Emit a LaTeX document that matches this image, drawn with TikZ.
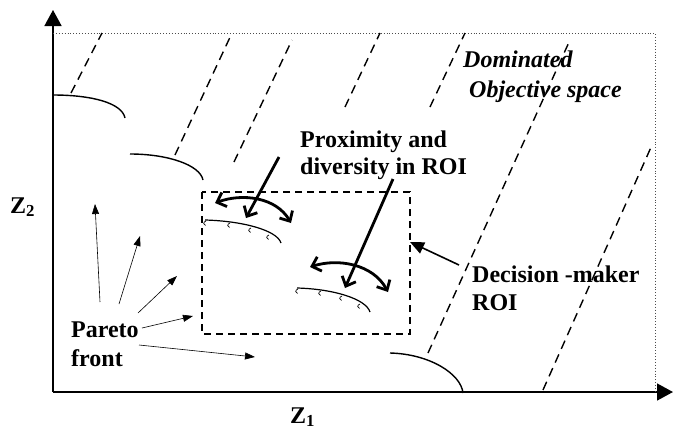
\documentclass[tikz,border=0pt]{standalone}
\usepackage{fontspec}
\setmainfont{Liberation Serif}
\usetikzlibrary{arrows.meta}
\begin{document}
\begin{tikzpicture}[x=1pt,y=-1pt,
  lbl/.style={font=\fontsize{24}{28}\selectfont\bfseries, inner sep=0pt, anchor=base west, align=left},
  itlbl/.style={font=\fontsize{24}{30}\selectfont\bfseries\itshape, inner sep=0pt, anchor=base west, align=left},
  axisline/.style={line width=1.6pt, -{Triangle[length=16pt,width=17pt]}},
  frontier/.style={line width=1.4pt},
  roifront/.style={line width=1.2pt},
  hook/.style={line width=0.7pt},
  domline/.style={line width=1.4pt, dash pattern=on 9pt off 6pt},
  roibox/.style={line width=1.7pt, dash pattern=on 7pt off 5pt},
  thinarrow/.style={line width=0.6pt, -{Triangle[length=10pt,width=7pt]}},
  thickarrow/.style={line width=2.8pt, -{Straight Barb[length=8pt,width=15pt]}},
  swing/.style={line width=2.8pt, {Straight Barb[length=8pt,width=15pt]}-{Straight Barb[length=8pt,width=15pt]}}
]
\useasboundingbox (0,0) rectangle (673,432);

% axes
\coordinate (O) at (53,392);
\coordinate (ytip) at (53,10);
\coordinate (xtip) at (673,392);
\draw[axisline] (O) -- (ytip);
\draw[axisline] (O) -- (xtip);
% dotted objective space border
\coordinate (tl) at (53,33);
\coordinate (br) at (655,392);
\draw[line width=0.9pt, dotted, gray!60!black] (tl) -| (br);

% axis labels
\node[lbl] (z2) at (10,213) {Z\textsubscript{2}};
\node[lbl] (z1) at (290,423) {Z\textsubscript{1}};

% dominated region dashed lines
\coordinate (a1) at (71,93);   \coordinate (a2) at (102,33);
\coordinate (b1) at (175,155); \coordinate (b2) at (232,33);
\coordinate (c1) at (234,162); \coordinate (c2) at (292,40);
\coordinate (d1) at (345,107); \coordinate (d2) at (380,33);
\coordinate (e1) at (430,107); \coordinate (e2) at (465,33);
\coordinate (f1) at (428,353); \coordinate (f2) at (570,40);
\coordinate (g1) at (543,390); \coordinate (g2) at (652,145);
\foreach \p in {a,b,c,d,e,f,g} \draw[domline] (\p1) -- (\p2);

% Pareto fronts
\coordinate (p1s) at (53,95);   \coordinate (p1e) at (125,118);
\coordinate (p2s) at (130,154); \coordinate (p2e) at (203,180);
\coordinate (p3s) at (390,353); \coordinate (p3e) at (463,393);
\draw[frontier] (p1s) .. controls (92,95) and (122,103) .. (p1e);
\draw[frontier] (p2s) .. controls (168,154) and (200,165) .. (p2e);
\draw[frontier] (p3s) .. controls (430,354) and (461,374) .. (p3e);

% ROI box
\coordinate (r1) at (202,192);
\coordinate (r2) at (410,334);
\draw[roibox] (r1) rectangle (r2);

% ROI fronts with hooks
\coordinate (q1s) at (205,220); \coordinate (q1e) at (281,243);
\coordinate (q2s) at (297,288); \coordinate (q2e) at (370,312);
\draw[roifront] (q1s) .. controls (242,221) and (277,230) .. (q1e);
\draw[roifront] (q2s) .. controls (334,289) and (366,299) .. (q2e);
\foreach \x/\y in {206/221,230/223,251/228,269/235, 298/289,321/291,342/296,360/304}
  \draw[hook] (\x,\y) .. controls (\x-3,\y+1) and (\x-3,\y+4) .. (\x-0.5,\y+4.5);

% swinging double arrows
\coordinate (s1l) at (215,203); \coordinate (s1r) at (291,223);
\coordinate (s2l) at (310,267); \coordinate (s2r) at (388,292);
\draw[swing] (s1l) .. controls (242,193) and (276,197) .. (s1r);
\draw[swing] (s2l) .. controls (338,258) and (373,264) .. (s2r);

% labels (anchor = baseline of last line)
\node[lbl] (prox) at (300,174) {Proximity and\\[-1pt]diversity in ROI};
\node[lbl] (dm) at (472,310) {Decision -maker\\ROI};
\node[lbl] (pf) at (71,366) {Pareto\\[1pt]front};
\node[itlbl] (dom) at (463,97) {Dominated\\\hspace*{6pt}Objective space};

% thick arrows from proximity label
\coordinate (t1s) at (279,157); \coordinate (t1e) at (246,218);
\coordinate (t2s) at (393,179); \coordinate (t2e) at (345,288);
\draw[thickarrow] (t1s) -- (t1e);
\draw[thickarrow] (t2s) -- (t2e);

% arrow from decision-maker label
\coordinate (dms) at (459,265); \coordinate (dme) at (410,242);
\draw[line width=1.6pt, -{Triangle[length=14pt,width=12pt]}] (dms) -- (dme);

% Pareto front arrows
\coordinate (u1s) at (100,302); \coordinate (u1e) at (95,204);
\coordinate (u2s) at (119,304); \coordinate (u2e) at (140,236);
\coordinate (u3s) at (138,313); \coordinate (u3e) at (177,276);
\coordinate (u4s) at (142,328); \coordinate (u4e) at (193,316);
\coordinate (u5s) at (139,345); \coordinate (u5e) at (255,357);
\foreach \i in {1,...,5} \draw[thinarrow] (u\i s) -- (u\i e);
\end{tikzpicture}
\end{document}
